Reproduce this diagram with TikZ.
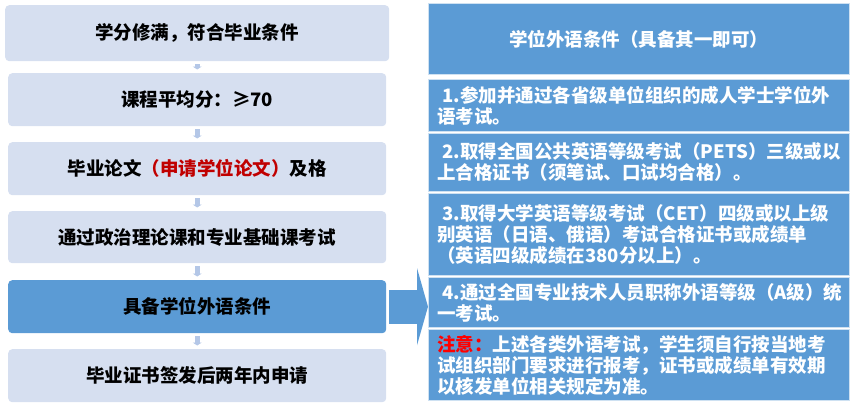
\documentclass[tikz,border=0pt]{standalone}
\usepackage{fontspec}
\setmainfont{Noto Sans CJK SC}
\usetikzlibrary{arrows.meta}
\definecolor{paleblue}{RGB}{214,223,240}
\definecolor{keyblue}{RGB}{91,155,213}
\definecolor{tipblue}{RGB}{180,199,231}
\definecolor{darkred}{RGB}{192,0,0}

\begin{document}
\begin{tikzpicture}[x=1pt,y=-1pt,
    condbox/.style={fill=paleblue, rounded corners=4pt, minimum width=378pt, minimum height=53pt,
        inner sep=0pt, anchor=north west, font=\fontsize{18.5}{22}\selectfont\bfseries},
    keybox/.style={condbox, fill=keyblue},
    langbox/.style={fill=keyblue, draw=white!70!keyblue, line width=0.8pt, anchor=north west,
        text width=403pt, inner xsep=9pt, inner ysep=0pt, align=left, text=white,
        font=\fontsize{18.5}{21}\selectfont\bfseries},
    downtip/.style={draw=tipblue, line width=5pt, -{Triangle[length=3pt,width=9pt]},
        shorten <=3pt, shorten >=3.5pt},
    bigtip/.style={draw=keyblue, line width=34pt, -{Triangle[length=11pt,width=77pt]},
        shorten <=3pt}]
    % keep the size of the reference
    \useasboundingbox (0,0) rectangle (856,412);

    % draw the conditions on the left
    \node[condbox, minimum width=384pt, minimum height=56pt] (cond1) at (5,5) {学分修满，符合毕业条件};
    \node[condbox] (cond2) at (8,73) {课程平均分：≥70};
    \node[condbox] (cond3) at (8,142) {毕业论文{\color{darkred}（申请学位论文）}及格};
    \node[condbox, minimum height=52pt] (cond4) at (8,211) {通过政治理论课和专业基础课考试};
    \node[keybox] (cond5) at (8,280) {具备学位外语条件};
    \node[condbox] (cond6) at (8,349) {毕业证书签发后两年内申请};

    % the small arrows between them
    \foreach \a/\b in {cond1/cond2,cond2/cond3,cond3/cond4,cond4/cond5,cond5/cond6}
        \draw[downtip] (\a) -- (\b);

    % draw the language conditions on the right
    \node[langbox, minimum height=71pt, align=center] (lang0) at (428,3) {学位外语条件（具备其一即可）};
    \node[langbox, minimum height=52pt] (lang1) at (428,79)
        {\hspace{5pt}1.参加并通过各省级单位组织的成人学士学位外\\语考试。};
    \node[langbox, minimum height=58pt] (lang2) at (428,133)
        {\hspace{5pt}2.取得全国公共英语等级考试（PETS）三级或以\\上合格证书（须笔试、口试均合格）。};
    \node[langbox, minimum height=82pt] (lang3) at (428,193)
        {\hspace{5pt}3.取得大学英语等级考试（CET）四级或以上级\\别英语（日语、俄语）考试合格证书或成绩单\\（英语四级成绩在380分以上）。};
    \node[langbox, minimum height=50pt] (lang4) at (428,277)
        {\hspace{5pt}4.通过全国专业技术人员职称外语等级（A级）统\\一考试。};
    \node[langbox, minimum height=71pt] (note) at (428,329)
        {{\color{red}注意：}上述各类外语考试，学生须自行按当地考\\试组织部门要求进行报考，证书或成绩单有效期\\以核发单位相关规定为准。};

    % the big arrow
    \draw[bigtip] (cond5) -- (cond5 -| lang4.west);
\end{tikzpicture}
\end{document}
